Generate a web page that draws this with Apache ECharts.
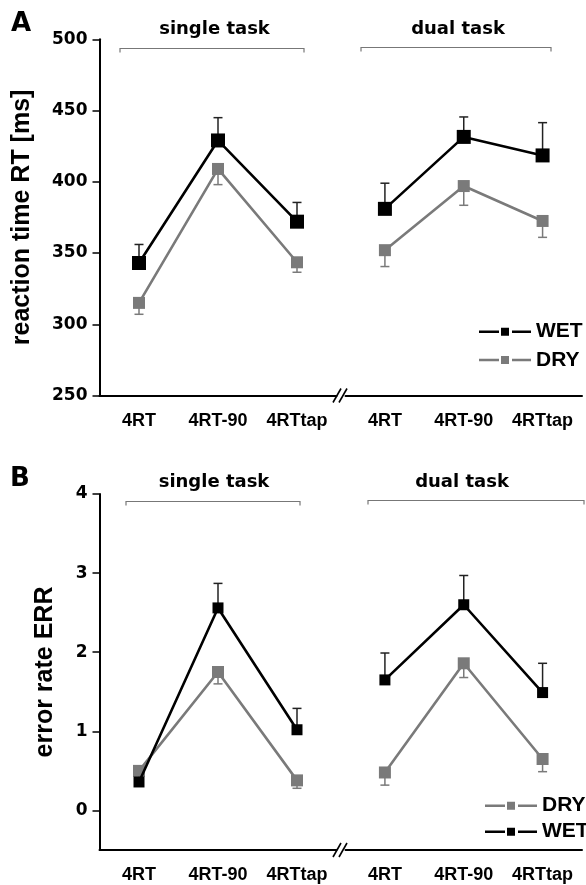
<!DOCTYPE html>
<html><head><meta charset="utf-8">
<script src="https://cdn.jsdelivr.net/npm/echarts@6/dist/echarts.min.js"></script>
<style>html,body{margin:0;padding:0;background:#fff}#c{width:586px;height:885px}</style>
</head><body><div id="c"></div>
<script>
// ---------- data ----------
const categories = ['4RT', '4RT-90', '4RTtap'];
const groups = ['single task', 'dual task'];
const panelLetters = ['A', 'B'];
const rtTitle = 'reaction time RT [ms]';
const errTitle = 'error rate ERR';
const rtTicks = [250, 300, 350, 400, 450, 500];
const errTicks = [0, 1, 2, 3, 4];

// Panel A: reaction time (ms)
const rtWetSingle   = [343, 429, 372];
const rtWetSingleSE = [13, 16, 13.5];
const rtDrySingle   = [315, 409, 343.5];
const rtDrySingleSE = [8, 11, 7];
const rtWetDual     = [381, 431.5, 418.5];
const rtWetDualSE   = [18, 14, 23];
const rtDryDual     = [352, 397, 372.5];
const rtDryDualSE   = [11.5, 13.5, 11.5];

// Panel B: error rate
const erWetSingle   = [0.36, 2.56, 1.02];
const erWetSingleSE = [0.1, 0.31, 0.27];
const erDrySingle   = [0.5, 1.75, 0.38];
const erDrySingleSE = [0.05, 0.15, 0.1];
const erWetDual     = [1.65, 2.6, 1.49];
const erWetDualSE   = [0.34, 0.37, 0.37];
const erDryDual     = [0.48, 1.86, 0.65];
const erDryDualSE   = [0.16, 0.18, 0.16];

// ---------- styles ----------
const WET = '#000000';
const DRY = '#7a7a7a';
const ARIAL = 'Liberation Sans';
const DEJAVU = 'DejaVu Sans';
const legendIcon = 'path://M0,2.75h20v2.5h-20z M22,0h8v8h-8z M33,2.75h19v2.5h-19z';

const chart = echarts.init(document.getElementById('c'), null, {renderer: 'canvas'});

function errItem(params, api) {
  const x = api.value(0), lo = api.value(1), hi = api.value(2), capHi = api.value(3);
  const a = api.coord([x, lo]), b = api.coord([x, hi]);
  const capY = capHi ? b[1] : a[1];
  const w = 4.5;
  const style = {stroke: api.visual('color'), lineWidth: 1.5};
  return {type: 'group', children: [
    {type: 'line', shape: {x1: a[0], y1: a[1], x2: b[0], y2: b[1]}, style: style},
    {type: 'line', shape: {x1: a[0] - w, y1: capY, x2: a[0] + w, y2: capY}, style: style}
  ]};
}

function errData(vals, se, up) {
  return vals.map((v, i) => up ? [i, v, v + se[i], 1] : [i, v - se[i], v, 0]);
}

function panelSeries(idx, wet, wetSE, dry, drySE, wetSize, drySize) {
  return [
    {name: 'WET', type: 'line', xAxisIndex: idx, yAxisIndex: idx, data: wet,
     symbol: 'rect', symbolSize: wetSize, z: 4,
     itemStyle: {color: WET}, lineStyle: {color: WET, width: 2.6}},
    {name: 'DRY', type: 'line', xAxisIndex: idx, yAxisIndex: idx, data: dry,
     symbol: 'rect', symbolSize: drySize, z: 3,
     itemStyle: {color: DRY}, lineStyle: {color: DRY, width: 2.6}},
    {name: 'WET', type: 'custom', xAxisIndex: idx, yAxisIndex: idx, z: 2,
     itemStyle: {color: '#222'}, renderItem: errItem,
     encode: {x: 0, y: [1, 2]}, data: errData(wet, wetSE, true)},
    {name: 'DRY', type: 'custom', xAxisIndex: idx, yAxisIndex: idx, z: 2,
     itemStyle: {color: DRY}, renderItem: errItem,
     encode: {x: 0, y: [1, 2]}, data: errData(dry, drySE, false)}
  ];
}

function xAxis(gridIndex, margin) {
  return {
    type: 'category', gridIndex: gridIndex, data: categories, boundaryGap: true,
    axisLine: {onZero: false, lineStyle: {color: '#000', width: 2}},
    axisTick: {alignWithLabel: true, interval: 0, length: 7, lineStyle: {color: '#000', width: 1.5}},
    axisLabel: {interval: 0, hideOverlap: false, margin: margin, color: '#000',
                fontFamily: ARIAL, fontWeight: 'bold', fontSize: 18},
    splitLine: {show: false}
  };
}

const yLabelStyle = {color: '#000', fontFamily: DEJAVU, fontWeight: 'bold', fontSize: 17, margin: 12};
const yNameStyle = {color: '#000', fontFamily: ARIAL, fontWeight: 'bold', fontSize: 25};

const grids = [
  {left: 99.5, top: 39.3, width: 237, height: 356.2},
  {left: 345.5, top: 39.3, width: 236.5, height: 356.2},
  {left: 99.5, top: 494, width: 237, height: 356},
  {left: 345.5, top: 494, width: 236.5, height: 356}
];

const yAxes = [
  {type: 'value', gridIndex: 0, min: rtTicks[0], max: rtTicks[rtTicks.length - 1], interval: 50,
   name: rtTitle, nameLocation: 'middle', nameGap: 65, nameTextStyle: yNameStyle,
   axisLine: {show: true, lineStyle: {color: '#000', width: 2}},
   axisTick: {show: true, length: 7, lineStyle: {color: '#000', width: 1.5}},
   axisLabel: yLabelStyle, splitLine: {show: false}},
  {type: 'value', gridIndex: 1, min: rtTicks[0], max: rtTicks[rtTicks.length - 1], interval: 50, show: false, splitLine: {show: false}},
  {type: 'value', gridIndex: 2, min: -0.5, max: errTicks[errTicks.length - 1],
   name: errTitle, nameLocation: 'middle', nameGap: 42, nameTextStyle: yNameStyle,
   axisLine: {show: true, lineStyle: {color: '#000', width: 2}},
   axisTick: {show: true, length: 7, customValues: errTicks, lineStyle: {color: '#000', width: 1.5}},
   axisLabel: Object.assign({customValues: errTicks}, yLabelStyle), splitLine: {show: false}},
  {type: 'value', gridIndex: 3, min: -0.5, max: errTicks[errTicks.length - 1], show: false, splitLine: {show: false}}
];

function txt(s, x, y, font, align) {
  return {type: 'text', x: x, y: y, silent: true,
    style: {text: s, font: font, fill: '#000', align: align, verticalAlign: 'middle',
            textAlign: align, textVerticalAlign: 'middle'}};
}
function bracket(x1, x2, y) {
  return {type: 'polyline', silent: true,
    shape: {points: [[x1, y + 4], [x1, y], [x2, y], [x2, y + 4]]},
    style: {stroke: '#777', lineWidth: 1.2, fill: null}};
}
function breakMarks(y) {
  return [
    {type: 'line', silent: true, shape: {x1: 333, y1: y + 7, x2: 341, y2: y - 7}, style: {stroke: '#000', lineWidth: 1.6}},
    {type: 'line', silent: true, shape: {x1: 339, y1: y + 7, x2: 347, y2: y - 7}, style: {stroke: '#000', lineWidth: 1.6}}
  ];
}

const groupFont = 'bold 18px "' + DEJAVU + '"';
const letterFont = 'bold 26px "' + DEJAVU + '"';

const graphic = [
  txt(panelLetters[0], 11, 24.7, letterFont, 'left'),
  txt(panelLetters[1], 10, 479, letterFont, 'left'),
  txt(groups[0], 214.5, 29.2, groupFont, 'center'),
  txt(groups[1], 458, 29.2, groupFont, 'center'),
  txt(groups[0], 214, 482.5, groupFont, 'center'),
  txt(groups[1], 462, 482.5, groupFont, 'center'),
  bracket(120, 304, 48.5),
  bracket(361, 551, 47.5),
  bracket(126, 300, 501.5),
  bracket(368, 584, 500.5)
].concat(breakMarks(395.5)).concat(breakMarks(850));

const legendText = {fontFamily: ARIAL, fontWeight: 'bold', fontSize: 21, color: '#000', lineHeight: 24};

const option = {
  backgroundColor: '#fff',
  animation: false,
  grid: grids,
  xAxis: [xAxis(0, 17), xAxis(1, 17), xAxis(2, 16), xAxis(3, 16)],
  yAxis: yAxes,
  legend: [
    {orient: 'vertical', left: 474, top: 314.7, itemWidth: 52, itemHeight: 8, itemGap: 4.3,
     selectedMode: false, textStyle: legendText,
     data: [{name: 'WET', icon: legendIcon, itemStyle: {color: WET, borderWidth: 0}},
            {name: 'DRY', icon: legendIcon, itemStyle: {color: DRY, borderWidth: 0}}]},
    {orient: 'vertical', left: 480, top: 788.7, itemWidth: 52, itemHeight: 8, itemGap: 2,
     selectedMode: false, textStyle: legendText,
     data: [{name: 'DRY', icon: legendIcon, itemStyle: {color: DRY, borderWidth: 0}},
            {name: 'WET', icon: legendIcon, itemStyle: {color: WET, borderWidth: 0}}]}
  ],
  graphic: graphic,
  series: [].concat(
    panelSeries(0, rtWetSingle, rtWetSingleSE, rtDrySingle, rtDrySingleSE, 14, 12),
    panelSeries(1, rtWetDual, rtWetDualSE, rtDryDual, rtDryDualSE, 14, 12),
    panelSeries(2, erWetSingle, erWetSingleSE, erDrySingle, erDrySingleSE, 11, 12),
    panelSeries(3, erWetDual, erWetDualSE, erDryDual, erDryDualSE, 11, 12)
  )
};
chart.setOption(option);
</script>
</body></html>
